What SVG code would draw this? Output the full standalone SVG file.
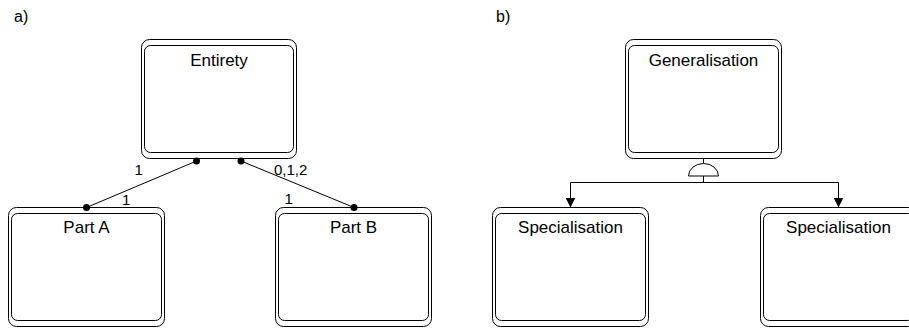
<svg xmlns="http://www.w3.org/2000/svg" width="909" height="329" viewBox="0 0 909 329">
  <style>
    .outer { fill: #fff; stroke: #000; stroke-width: 1; }
    .inner { fill: none; stroke: #000; stroke-width: 1; }
    .name { font-family: "Liberation Sans", Arial, sans-serif; font-size: 17px; fill: #000; text-anchor: middle; }
    .mult { font-family: "Liberation Sans", Arial, sans-serif; font-size: 15px; fill: #000; }
    .panel { font-family: "Liberation Sans", Arial, sans-serif; font-size: 16px; fill: #000; }
    .line { fill: none; stroke: #000; stroke-width: 1; }
    .dot { fill: #000; }
  </style>
  <defs>
    <marker id="arrow" viewBox="0 0 10 10" refX="10" refY="5" markerWidth="10" markerHeight="10" markerUnits="userSpaceOnUse" orient="auto">
      <path d="M0,0 L10,5 L0,10 Z" fill="#000"/>
    </marker>
  </defs>

  <rect width="909" height="329" fill="#fff"/>

  <text class="panel" x="14" y="22">a)</text>
  <text class="panel" x="496" y="22">b)</text>

  <!-- a) aggregation -->
  <g id="entirety">
    <rect class="outer" x="141.5" y="39.5" width="155" height="119" rx="8"/>
    <rect class="inner" x="144.5" y="45.5" width="149" height="107" rx="6"/>
    <text class="name" x="219" y="66">Entirety</text>
  </g>
  <g id="part-a">
    <rect class="outer" x="8.5" y="207.5" width="156" height="119" rx="8"/>
    <rect class="inner" x="11.5" y="213.5" width="150" height="107" rx="6"/>
    <text class="name" x="86.5" y="233">Part A</text>
  </g>
  <g id="part-b">
    <rect class="outer" x="275.5" y="207.5" width="156" height="119" rx="8"/>
    <rect class="inner" x="278.5" y="213.5" width="150" height="107" rx="6"/>
    <text class="name" x="353.5" y="233">Part B</text>
  </g>

  <!-- b) generalisation -->
  <g id="generalisation">
    <rect class="outer" x="625.5" y="39.5" width="156" height="119" rx="8"/>
    <rect class="inner" x="628.5" y="45.5" width="150" height="107" rx="6"/>
    <text class="name" x="703.5" y="66">Generalisation</text>
  </g>
  <g id="specialisation-1">
    <rect class="outer" x="492.5" y="207.5" width="156" height="119" rx="8"/>
    <rect class="inner" x="495.5" y="213.5" width="150" height="107" rx="6"/>
    <text class="name" x="570.5" y="233">Specialisation</text>
  </g>
  <g id="specialisation-2">
    <rect class="outer" x="760.5" y="207.5" width="156" height="119" rx="8"/>
    <rect class="inner" x="763.5" y="213.5" width="150" height="107" rx="6"/>
    <text class="name" x="838.5" y="233">Specialisation</text>
  </g>

  <g id="connectors">
    <!-- whole/part links with multiplicities -->
    <line class="line" x1="196.5" y1="161" x2="86.5" y2="207.5"/>
    <circle class="dot" cx="196.5" cy="161" r="3.5"/>
    <circle class="dot" cx="86.5" cy="207.5" r="3.5"/>
    <text class="mult" x="134.5" y="175">1</text>
    <text class="mult" x="122" y="205">1</text>

    <line class="line" x1="241" y1="161" x2="354" y2="207.5"/>
    <circle class="dot" cx="241" cy="161" r="3.5"/>
    <circle class="dot" cx="354" cy="207.5" r="3.5"/>
    <text class="mult" x="274" y="175">0,1,2</text>
    <text class="mult" x="284.5" y="204">1</text>

    <!-- inheritance fork -->
    <line class="line" x1="703.5" y1="158.5" x2="703.5" y2="163.5"/>
    <path class="line" d="M688.5,176 A15,12.5 0 0 1 718.5,176 Z"/>
    <line class="line" x1="703.5" y1="176" x2="703.5" y2="182.5"/>
    <line class="line" x1="570.5" y1="182.5" x2="838.5" y2="182.5"/>
    <line class="line" x1="570.5" y1="182.5" x2="570.5" y2="207.5" marker-end="url(#arrow)"/>
    <line class="line" x1="838.5" y1="182.5" x2="838.5" y2="207.5" marker-end="url(#arrow)"/>
  </g>
</svg>
